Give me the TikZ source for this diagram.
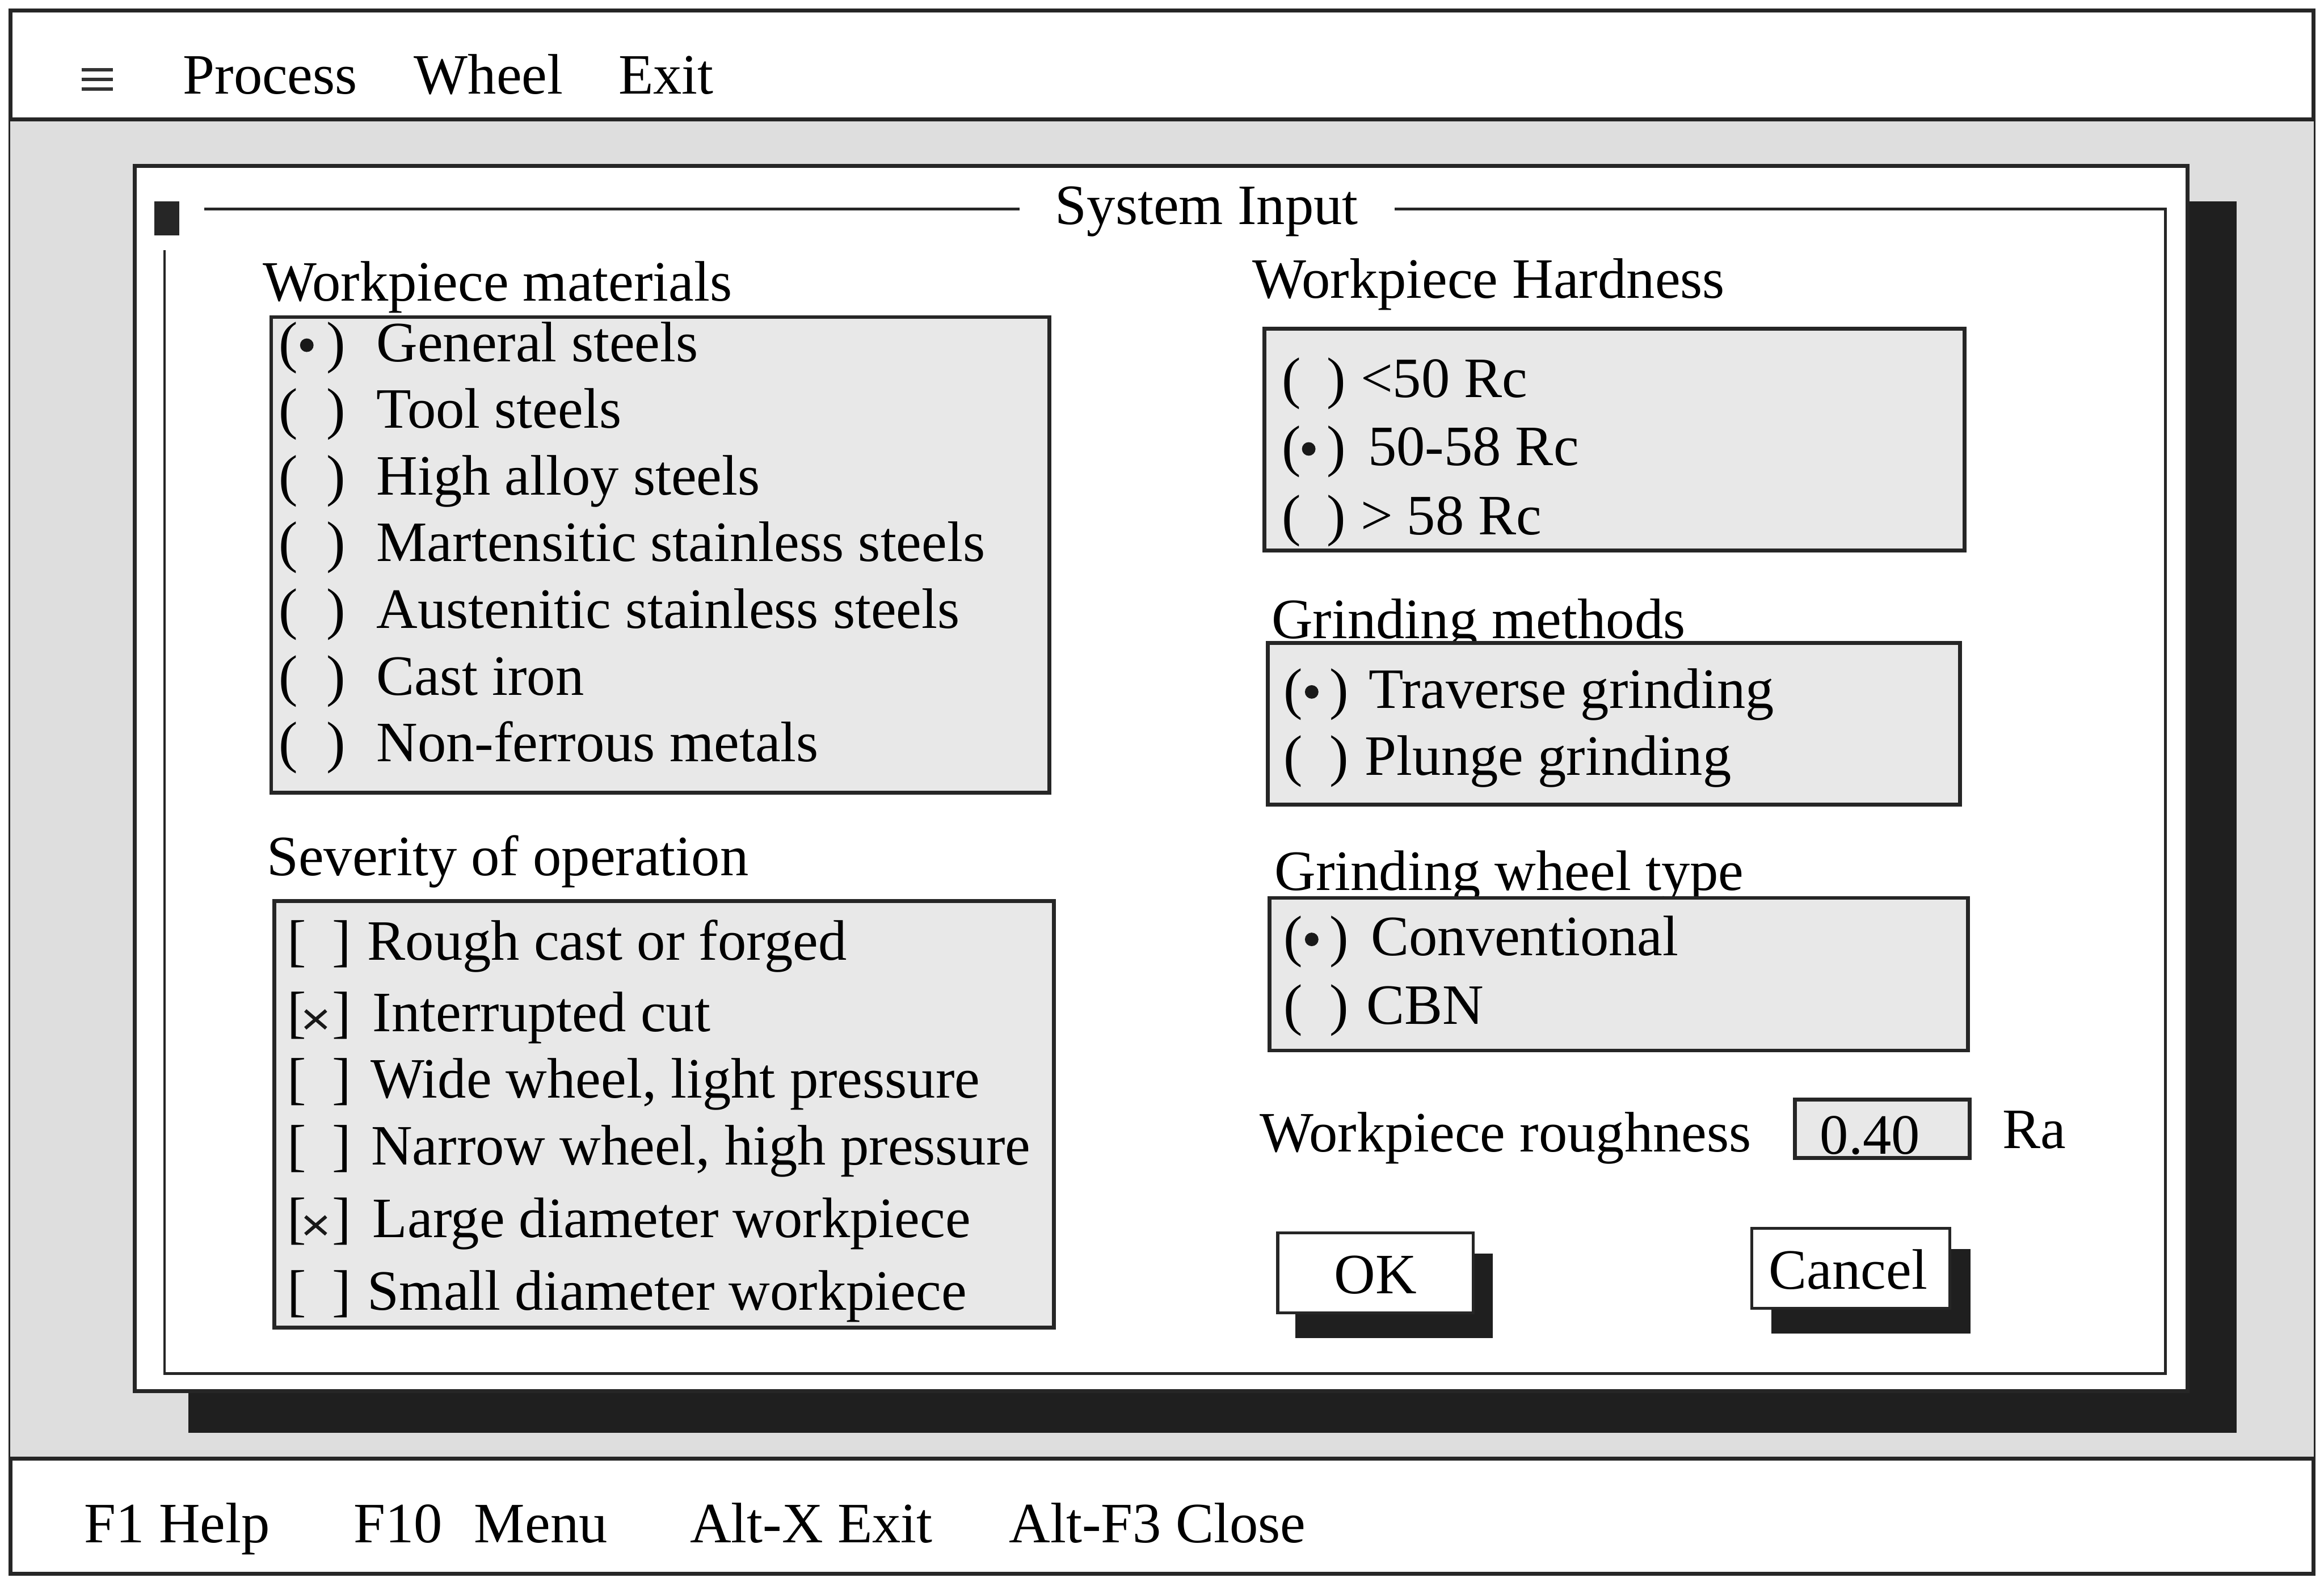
\documentclass[tikz,border=0pt]{standalone}
\usepackage{fontspec}
\setmainfont{Liberation Serif}
\begin{document}
\begin{tikzpicture}[x=0.01cm,y=-0.01cm,
  every node/.style={inner sep=0pt, outer sep=0pt, font=\fontsize{10.95pt}{13pt}\selectfont},
  lbl/.style={anchor=base west},
  rbr/.style={anchor=base east},
  mid/.style={anchor=base},
  rule/.style={draw=black!85, line width=0.75pt},
  thin rule/.style={draw=black!85, line width=0.5pt},
  listbox/.style={draw=black!85, line width=0.75pt, fill=black!9},
  shadow/.style={fill=black!88},
  button/.style={draw=black!85, line width=0.6pt, fill=white},
  dot/.style={fill=black!90},
]
% page
\fill[white] (0,0) rectangle (1568,1067.4);
\useasboundingbox (0,0) rectangle (1568,1067.4);

% application window: menu bar, desktop, status bar
\draw[rule, fill=white] (7,7) rectangle (1561,1062);
\fill[black!13] (7,80.5) rectangle (1561,984.5);
\draw[rule] (7,80.5) -- (1561,80.5);
\draw[rule] (7,984.5) -- (1561,984.5);

% menu bar
\foreach \yy in {47,53.5,60} \draw[draw=black!80, line width=0.65pt] (55,\yy) -- (76,\yy);
\node[lbl] (mProcess) at (123.5,63.4) {Process};
\node[lbl] (mWheel) at (279.4,63.4) {Wheel};
\node[lbl] (mExit) at (417.3,63.4) {Exit};

% status bar
\node[lbl] (sHelp) at (57,1041) {F1 Help};
\node[lbl] (sF10) at (238.7,1041) {F10};
\node[lbl] (sMenu) at (320,1041) {Menu};
\node[lbl] (sExit) at (465.6,1041) {Alt-X Exit};
\node[lbl] (sClose) at (681,1041) {Alt-F3 Close};

% dialog with drop shadow
\fill[shadow] (127,136) rectangle (1509,967);
\draw[rule, fill=white] (91,112) rectangle (1476,939);
\draw[thin rule] (138,141) -- (688,141);
\draw[thin rule] (941,141) -- (1461,141) -- (1461,927) -- (111,927) -- (111,169);
\fill[black!85] (104,136) rectangle (121,159);
\node[lbl] (title) at (712,151.5) {System Input};

% ---- workpiece materials
\node[lbl] (hMat) at (177.5,203) {Workpiece materials};
\draw[listbox] (183,214) rectangle (708,535);
\foreach \t [count=\i from 0] in {General steels, Tool steels, High alloy steels,
    Martensitic stainless steels, Austenitic stainless steels, Cast iron, Non-ferrous metals} {
  \pgfmathsetmacro{\yb}{244+45*\i}
  \node[lbl] (matO\i) at (188,\yb) {(};
  \node[rbr] (matC\i) at (233,\yb) {)};
  \node[lbl] (mat\i) at (254,\yb) {\t};
}
\fill[dot] (207,233) circle[radius=1.3pt];

% ---- severity of operation
\node[lbl] (hSev) at (180,591) {Severity of operation};
\draw[listbox] (185,608) rectangle (711,896);
\foreach \t/\yb/\xt [count=\i from 0] in {Rough cast or forged/648/248,
    Interrupted cut/696/251.5, {Wide wheel, light pressure}/741/250,
    {Narrow wheel, high pressure}/786/250.5, Large diameter workpiece/835/251.5,
    Small diameter workpiece/884/248} {
  \node[lbl] (sevO\i) at (194,\yb) {[};
  \node[rbr] (sevC\i) at (237,\yb) {]};
  \node[lbl] (sev\i) at (\xt,\yb) {\t};
}
\foreach \yb in {696,835}
  \draw[draw=black!90, line width=0.65pt] (206,\yb-14) -- (220,\yb-2) (206,\yb-2) -- (220,\yb-14);

% ---- workpiece hardness
\node[lbl] (hHard) at (845,201) {Workpiece Hardness};
\draw[listbox] (853,222) rectangle (1325.5,371.5);
\foreach \t/\yb/\xt [count=\i from 0] in {{<50 Rc}/268/918, {50-58 Rc}/314/923, {> 58 Rc}/361/918} {
  \node[lbl] (hrdO\i) at (865,\yb) {(};
  \node[rbr] (hrdC\i) at (908,\yb) {)};
  \node[lbl] (hrd\i) at (\xt,\yb) {\t};
}
\fill[dot] (883,303) circle[radius=1.3pt];

% ---- grinding methods
\node[lbl] (hMeth) at (858,430.7) {Grinding methods};
\draw[listbox] (855.5,434) rectangle (1322.5,543);
\foreach \t/\yb/\xt [count=\i from 0] in {Traverse grinding/478/923.5, Plunge grinding/523/921} {
  \node[lbl] (mtdO\i) at (866,\yb) {(};
  \node[rbr] (mtdC\i) at (910,\yb) {)};
  \node[lbl] (mtd\i) at (\xt,\yb) {\t};
}
\fill[dot] (885,467) circle[radius=1.3pt];

% ---- grinding wheel type
\node[lbl] (hWheel) at (860,601) {Grinding wheel type};
\draw[listbox] (856.5,606) rectangle (1327.7,709);
\foreach \t/\yb/\xt [count=\i from 0] in {Conventional/645/925, CBN/691/922} {
  \node[lbl] (whlO\i) at (866,\yb) {(};
  \node[rbr] (whlC\i) at (910,\yb) {)};
  \node[lbl] (whl\i) at (\xt,\yb) {\t};
}
\fill[dot] (885,634) circle[radius=1.3pt];

% ---- workpiece roughness
\node[lbl] (hRough) at (850,777.5) {Workpiece roughness};
\draw[listbox] (1211,742) rectangle (1329,781.5);
\node[lbl] (rVal) at (1228,779) {0.40};
\node[lbl] (rUnit) at (1351,775) {Ra};

% ---- buttons
\fill[shadow] (874,846) rectangle (1007,903);
\draw[button] (862,832) rectangle (994,886);
\node[mid] (ok) at (928,873) {OK};
\fill[shadow] (1195,843) rectangle (1329.5,900);
\draw[button] (1182,829) rectangle (1315.5,883);
\node[mid] (cancel) at (1247,870) {Cancel};
\end{tikzpicture}
\end{document}
